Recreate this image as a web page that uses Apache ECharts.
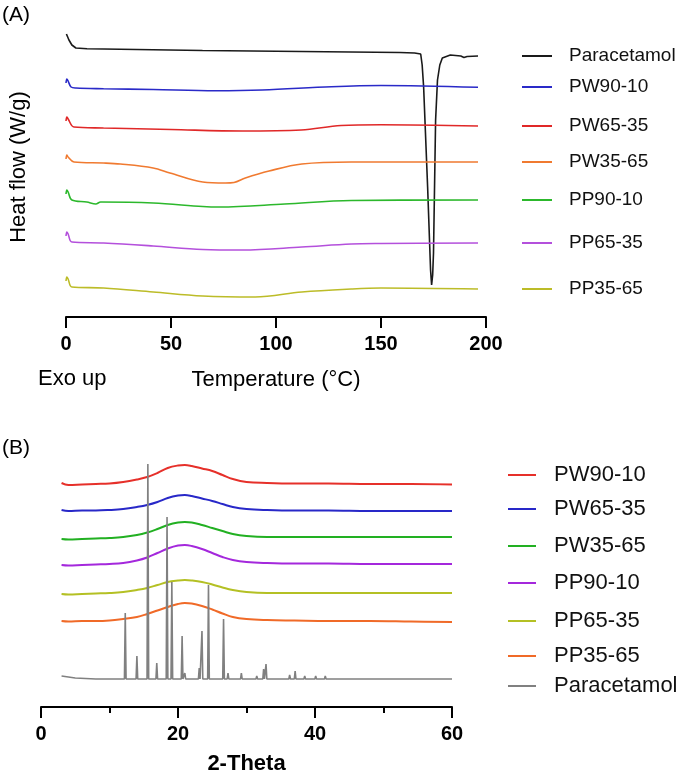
<!DOCTYPE html>
<html><head><meta charset="utf-8">
<script src="https://cdn.jsdelivr.net/npm/echarts@6/dist/echarts.min.js"></script>
<style>html,body{margin:0;padding:0;background:#fff}#c{width:679px;height:777px}</style>
</head><body><div id="c"></div>
<script>
const FONT = "'Liberation Sans', Arial, Helvetica, sans-serif";

// ---------- Panel A : DSC (temperature °C, offset heat flow a.u.) ----------
const dscNames = ['Paracetamol', 'PW90-10', 'PW65-35', 'PW35-65', 'PP90-10', 'PP65-35', 'PP35-65'];
const dscColors = ['#1a1a1a', '#2a2ac8', '#e02828', '#f07a30', '#2cb82c', '#b450dc', '#bcbc28'];
const dscTicks = [0, 50, 100, 150, 200];

const dscParacetamol = [[0.2,283],[0.8,280],[1.4,277],[2.8,272],[4.7,269],[10,268.3],[17.9,268],[65,266.5],[112,265.5],[159,264.5],[166,264],[168.9,263],[169.6,252],[170.3,230],[172.2,130],[173.6,47],[174.1,32],[174.6,42],[175,64],[176,197],[176.9,237],[178,252],[179.2,259],[183,262],[188,261],[189.5,259.5],[191,260.5],[196.2,261]];
const dscPW9010 = [[0,234],[0.4,238],[1.0,236],[2.4,230],[4.7,229],[17.9,228.3],[41.5,227.5],[71.2,226.3],[93.4,227],[126.4,230.3],[150,231.5],[196.2,229.7]];
const dscPW6535 = [[0,196],[0.4,200],[1.0,198],[3.8,190],[17.9,189],[50,187.5],[84,186],[112,187],[131,191.5],[150,192.2],[196.2,191]];
const dscPW3565 = [[0,158],[0.4,162],[1.0,160],[3.8,155],[17.9,154],[25.9,153],[41.5,149],[49.5,144],[65.1,135],[75.9,134],[80,134.5],[85.4,139],[96.7,146],[112.3,153],[135.8,155],[196.2,155]];
const dscPP9010 = [[0,123],[0.4,127],[1.0,125],[2.8,117],[9.9,115],[14.2,113],[16.5,115],[41.5,114],[65.1,110.5],[73.1,110],[104.2,113],[135.8,116.5],[196.2,117]];
const dscPP6535 = [[0,81],[0.4,85],[1.0,83],[2.8,75],[17.9,74],[41.5,71],[65.1,67.5],[84,67],[112.3,70],[135.8,73],[150,73.5],[196.2,74]];
const dscPP3565 = [[0,36],[0.4,40],[1.0,38],[2.8,30],[17.9,29],[41.5,25],[65.1,21],[90.1,20],[112.3,25],[135.8,28],[150,29],[196.2,28]];
const dscData = [dscParacetamol, dscPW9010, dscPW6535, dscPW3565, dscPP9010, dscPP6535, dscPP3565];
const dscLegendTops = [46, 77, 116, 152, 190, 233, 279];

// ---------- Panel B : XRD (2-theta, offset intensity a.u.) ----------
const xrdNames = ['PW90-10', 'PW65-35', 'PW35-65', 'PP90-10', 'PP65-35', 'PP35-65', 'Paracetamol'];
const xrdColors = ['#e6302a', '#2828c8', '#22b022', '#a428dc', '#b4c024', '#f06a28', '#808080'];
const xrdTicks = [0, 20, 40, 60];
const xrdTheta = [3, 4, 6, 8, 10, 12, 14, 15.5, 17, 18.5, 20, 21, 22, 23.5, 25, 26.5, 28, 30, 33, 37, 42, 48, 54, 60];
const xrdPW9010 = [224, 222, 222.5, 223, 223.5, 225, 227.5, 230, 234, 239, 241.5, 242, 241, 238.5, 236, 232, 228, 225, 224, 223.5, 223.5, 223, 223, 222.5];
const xrdPW6535 = [197, 196, 196.5, 196.5, 197, 198, 200, 202, 205, 209, 211.5, 212, 211, 208.5, 206, 203, 200, 198, 197, 196.5, 196.5, 196, 196, 196];
const xrdPW3565 = [168, 167.5, 168, 168.5, 169, 170, 172, 174.5, 178, 182, 184.5, 185, 184.5, 182, 179, 176, 173, 171, 170, 170, 170, 170, 170, 170];
const xrdPP9010 = [142, 141.5, 142, 142.5, 143, 144, 146.5, 149.5, 154, 158.5, 161.5, 162, 161, 158, 154, 150, 147, 145, 144, 143.5, 143.5, 143, 143, 143];
const xrdPP6535 = [113, 112.5, 113, 113.5, 114, 115, 117, 119, 122, 125, 126.5, 127, 126.5, 125, 122.5, 119.5, 117, 115, 114, 114, 114, 114, 114, 114];
const xrdPP3565 = [86, 85.5, 86, 86, 86.5, 88, 90, 93, 96.5, 100, 103, 104, 103.5, 101, 97.5, 93.5, 90, 88, 87, 86.5, 86, 86, 85.5, 85];
const xrdParacetamol = [
  [3,31],[4,30],[5,29],[8,28],
  [12.18,28],[12.3,94],[12.42,28],
  [13.88,28],[14.0,51],[14.12,28],
  [15.48,28],[15.6,243],[15.72,28],
  [16.78,28],[16.9,44],[17.02,28],
  [18.28,28],[18.4,190],[18.52,28],
  [18.98,28],[19.1,125],[19.22,28],
  [20.48,28],[20.6,71],[20.72,28],
  [20.88,28],[21.0,34],[21.12,28],
  [22.98,28],[23.1,39],[23.22,28],
  [23.38,28],[23.5,76],[23.62,28],
  [24.33,28],[24.45,122],[24.57,28],
  [26.53,28],[26.65,88],[26.77,28],
  [27.18,28],[27.3,34],[27.42,28],
  [29.13,28],[29.25,34],[29.37,28],
  [31.38,28],[31.5,31],[31.62,28],
  [32.38,28],[32.5,38],[32.62,28],
  [32.73,28],[32.85,43],[32.97,28],
  [36.18,28],[36.3,32],[36.42,28],
  [36.98,28],[37.1,36],[37.22,28],
  [38.38,28],[38.5,31],[38.62,28],
  [39.98,28],[40.1,31],[40.22,28],
  [40.68,28],[40.8,30],[40.92,28],
  [41.38,28],[41.5,31],[41.62,28],
  [45.28,28],[45.4,30],[45.52,28],
  [47.98,28],[48.1,30],[48.22,28],
  [51.28,28],[51.4,30],[51.52,28],
  [56.68,28],[56.8,30],[56.92,28],
  [58.88,28],[59.0,30],[59.12,28],[60,28]
];
const xrdCurves = [xrdPW9010, xrdPW6535, xrdPW3565, xrdPP9010, xrdPP6535, xrdPP3565];
const xrdLegendTops = [464, 498, 535, 572, 610, 645, 675];

// ---------- build option ----------
const chart = echarts.init(document.getElementById('c'), null, {renderer: 'canvas'});
const series = [];
dscNames.forEach((n, i) => {
  series.push({
    name: 'A:' + n, type: 'line', xAxisIndex: 0, yAxisIndex: 0,
    data: dscData[i], symbol: 'none', smooth: i === 0 ? false : 0.35,
    lineStyle: {color: dscColors[i], width: 1.6}, itemStyle: {color: dscColors[i]},
    animation: false, silent: true
  });
});
xrdNames.forEach((n, i) => {
  const d = i < 6 ? xrdTheta.map((t, k) => [t, xrdCurves[i][k]]) : xrdParacetamol;
  series.push({
    name: 'B:' + n, type: 'line', xAxisIndex: 1, yAxisIndex: 1,
    data: d, symbol: 'none', smooth: i < 6 ? 0.4 : false,
    lineStyle: {color: xrdColors[i], width: i < 6 ? 2 : 1.6}, itemStyle: {color: xrdColors[i]},
    animation: false, silent: true
  });
});

const hiddenSymbol = {color: 'transparent', borderColor: 'transparent', borderWidth: 0, opacity: 0};
const legends = [];
dscNames.forEach((n, i) => legends.push({
  data: ['A:' + n], left: 521, top: dscLegendTops[i], padding: 0,
  itemWidth: 30, itemHeight: 20, selectedMode: false, itemStyle: hiddenSymbol,
  formatter: s => s.slice(2),
  textStyle: {fontFamily: FONT, fontSize: 19, color: '#111', lineHeight: 20, padding: [0, 0, 0, 12]}
}));
xrdNames.forEach((n, i) => legends.push({
  data: ['B:' + n], left: 507, top: xrdLegendTops[i], padding: 0,
  itemWidth: 28, itemHeight: 22, selectedMode: false, itemStyle: hiddenSymbol,
  formatter: s => s.slice(2),
  textStyle: {fontFamily: FONT, fontSize: 22, color: '#111', lineHeight: 22, padding: [0, 0, 0, 13]}
}));

const axisCommon = {
  axisLine: {show: true, lineStyle: {color: '#000', width: 2}},
  axisTick: {show: true, length: 11, inside: false, lineStyle: {color: '#000', width: 2}},
  axisLabel: {fontFamily: FONT, fontSize: 20, fontWeight: 'bold', color: '#000', margin: 17},
  splitLine: {show: false}
};

const option = {
  backgroundColor: '#fff',
  animation: false,
  grid: [
    {left: 62, right: 193, top: 17, bottom: 460},
    {left: 41, right: 227, top: 457, bottom: 70}
  ],
  xAxis: [
    Object.assign({}, axisCommon, {
      gridIndex: 0, type: 'value', min: dscTicks[0], max: dscTicks[dscTicks.length - 1], interval: 50,
      name: 'Temperature (°C)', nameLocation: 'middle', nameGap: 52,
      nameTextStyle: {fontFamily: FONT, fontSize: 22, color: '#000'}
    }),
    Object.assign({}, axisCommon, {
      gridIndex: 1, type: 'value', min: xrdTicks[0], max: xrdTicks[xrdTicks.length - 1], interval: 20,
      minorTick: {show: true, splitNumber: 2, length: 6, lineStyle: {color: '#000', width: 2}},
      name: '2-Theta', nameLocation: 'middle', nameGap: 46,
      nameTextStyle: {fontFamily: FONT, fontSize: 22, fontWeight: 'bold', color: '#000'}
    })
  ],
  yAxis: [
    {gridIndex: 0, type: 'value', min: 0, max: 300,
     axisLine: {show: false}, axisTick: {show: false}, axisLabel: {show: false}, splitLine: {show: false},
     name: 'Heat flow (W/g)', nameLocation: 'middle', nameGap: 36,
     nameTextStyle: {fontFamily: FONT, fontSize: 22, color: '#000'}},
    {gridIndex: 1, type: 'value', min: 0, max: 250, show: false}
  ],
  legend: legends,
  graphic: [
    {type: 'text', left: 2, top: 5, style: {text: '(A)', font: '21px ' + FONT, fill: '#000'}},
    {type: 'text', left: 2, top: 438, style: {text: '(B)', font: '21px ' + FONT, fill: '#000'}},
    {type: 'text', left: 38, top: 368, style: {text: 'Exo up', font: '22px ' + FONT, fill: '#000'}}
  ],
  series: series
};
chart.setOption(option);
</script>
</body></html>
